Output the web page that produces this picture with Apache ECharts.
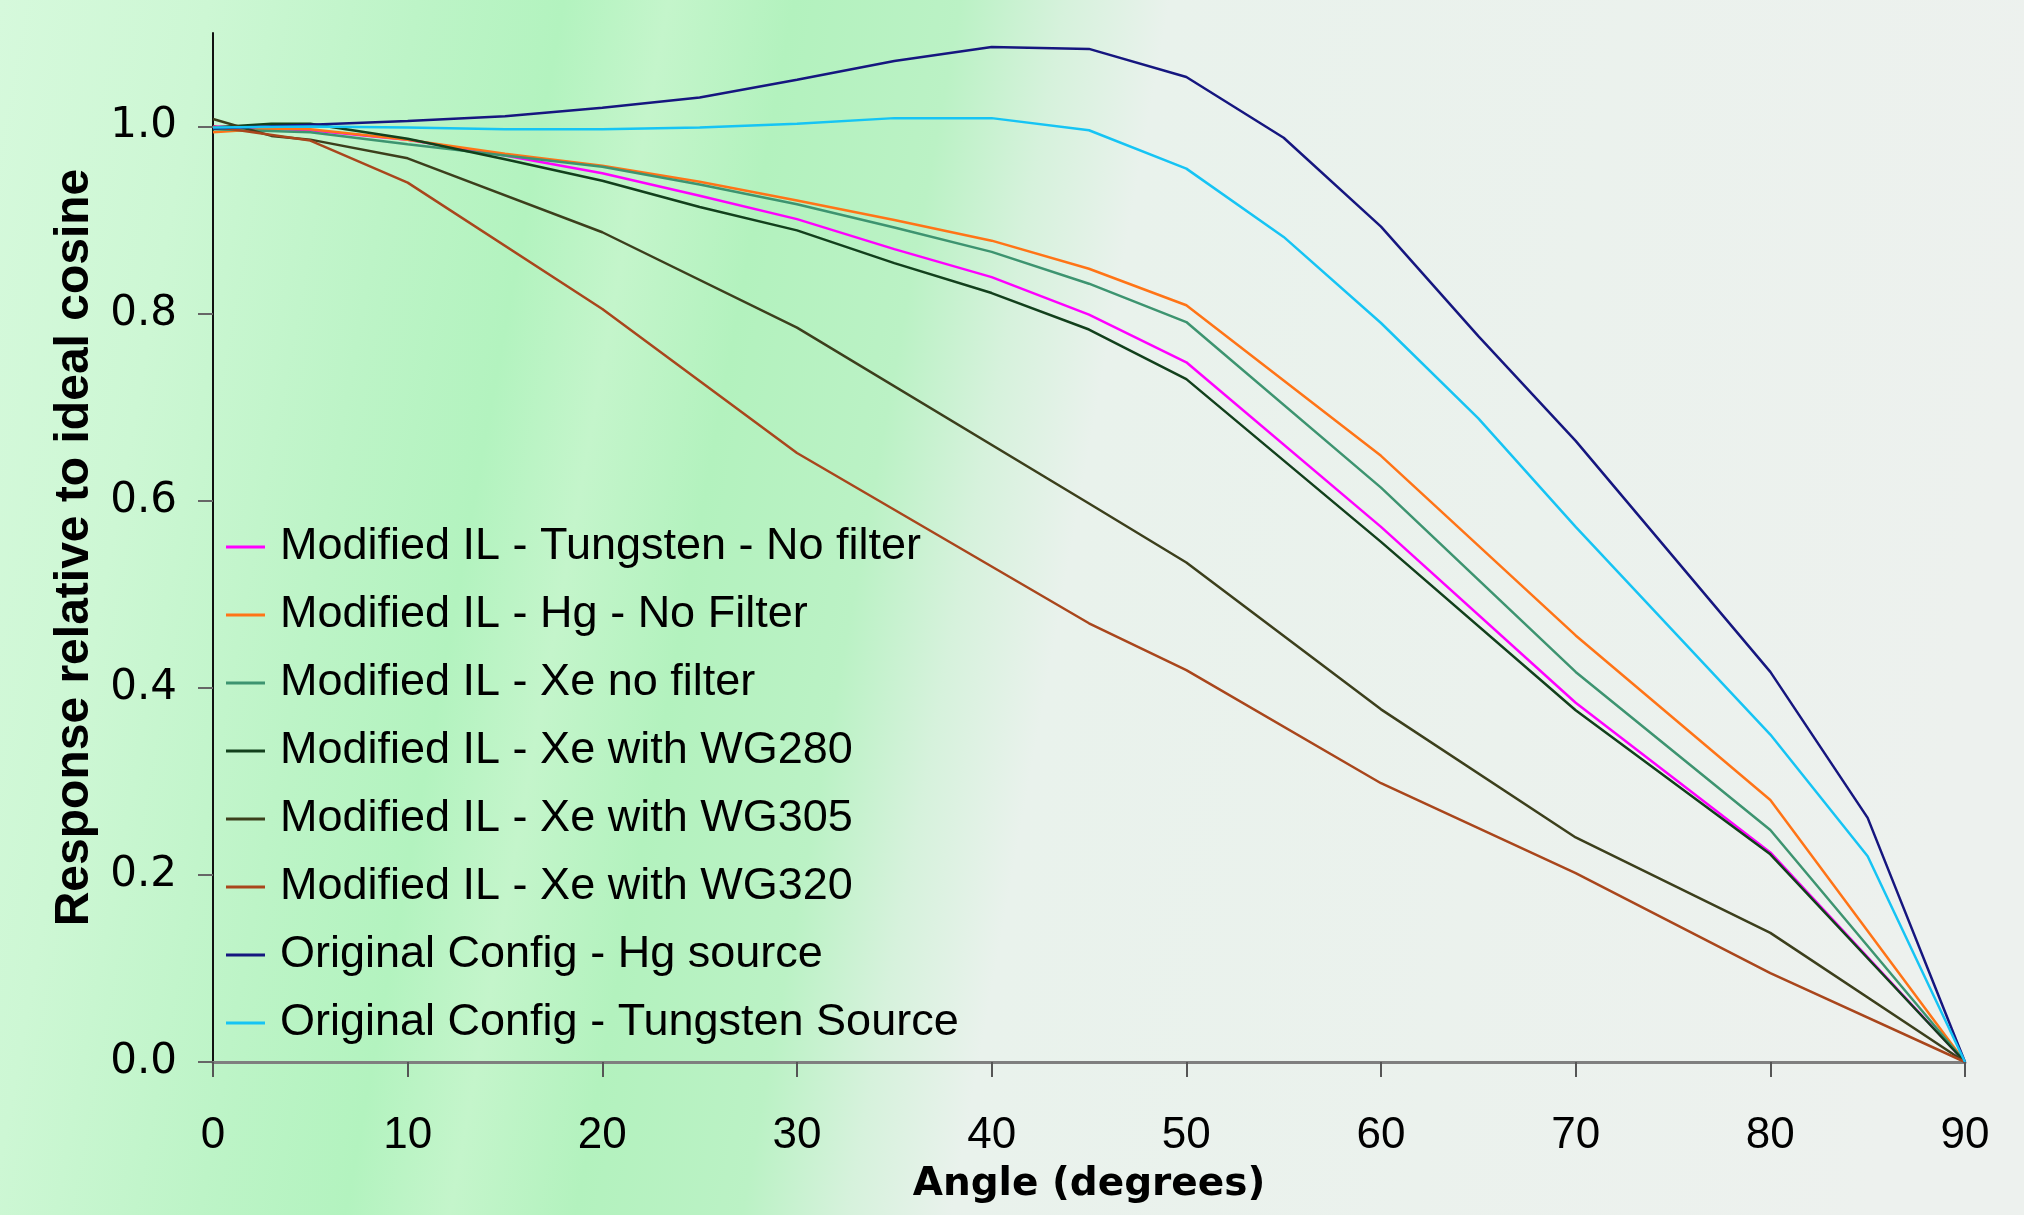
<!DOCTYPE html>
<html>
<head>
<meta charset="utf-8">
<title>Response relative to ideal cosine</title>
<script src="https://cdn.jsdelivr.net/npm/echarts@6/dist/echarts.min.js"></script>
<style>
  html, body { margin: 0; padding: 0; }
  #chart { width: 2024px; height: 1215px; }
</style>
</head>
<body>
<div id="chart"></div>
<script>
// angles (degrees) shared by all series; null = no reading at that angle
const angles = [0, 3, 5, 10, 15, 20, 25, 30, 35, 40, 45, 50, 55, 60, 65, 70, 75, 80, 85, 90];

const ilTungsten = [1.000, null, 0.996, 0.986, 0.969, 0.950, 0.926, 0.901, 0.869, 0.839, 0.799, 0.748, null, 0.572, null, 0.384, null, 0.224, null, 0.000];
const ilHg       = [0.994, 0.998, 0.997, 0.986, 0.971, 0.958, 0.941, 0.921, 0.900, 0.878, 0.848, 0.809, null, 0.648, null, 0.456, null, 0.280, null, 0.000];
const ilXe       = [0.997, null, 0.994, 0.981, 0.969, 0.957, 0.938, 0.917, 0.892, 0.866, 0.832, 0.791, null, 0.614, null, 0.417, null, 0.248, null, 0.000];
const ilWG280    = [0.999, 1.003, 1.003, 0.987, 0.965, 0.942, 0.914, 0.889, 0.854, 0.822, 0.783, 0.730, null, 0.556, null, 0.376, null, 0.222, null, 0.000];
const ilWG305    = [1.008, 0.990, 0.986, 0.966, null, 0.887, null, 0.785, null, null, 0.597, 0.534, null, 0.377, null, 0.240, null, 0.138, null, 0.000];
const ilWG320    = [1.000, null, 0.985, 0.940, null, 0.805, null, 0.651, null, null, 0.469, 0.419, null, 0.298, null, 0.202, null, 0.095, null, 0.000];
const origHg     = [0.998, null, 1.002, 1.006, 1.011, 1.020, 1.031, 1.050, 1.070, 1.085, 1.083, 1.053, 0.988, 0.893, 0.776, 0.664, null, 0.417, 0.261, 0.000];
const origTung   = [0.999, null, 1.000, 0.999, 0.997, 0.997, 0.999, 1.003, 1.009, 1.009, 0.996, 0.955, 0.882, 0.790, 0.688, 0.572, null, 0.350, 0.220, 0.000];

const seriesNames = [
  'Modified IL - Tungsten - No filter',
  'Modified IL - Hg - No Filter',
  'Modified IL - Xe no filter',
  'Modified IL - Xe with WG280',
  'Modified IL - Xe with WG305',
  'Modified IL - Xe with WG320',
  'Original Config - Hg source',
  'Original Config - Tungsten Source',
];
const seriesValues = [ilTungsten, ilHg, ilXe, ilWG280, ilWG305, ilWG320, origHg, origTung];
const colors = ['#ff00ff', '#ff7417', '#3d9470', '#12401c', '#3c3f1c', '#a9461c', '#16167f', '#16c4f4'];

const yTicks = [0, 0.2, 0.4, 0.6, 0.8, 1.0];

const toPairs = (vals) => angles.map((a, i) => [a, vals[i]]).filter((p) => p[1] !== null);

const chart = echarts.init(document.getElementById('chart'), null, { renderer: 'canvas' });

chart.setOption({
  animation: false,
  backgroundColor: {
    type: 'linear', x: 0, y: 0, x2: 1, y2: 0.3,
    colorStops: [
      { offset: 0.00, color: '#d6f9dc' },
      { offset: 0.10, color: '#cdf7d4' },
      { offset: 0.20, color: '#bdf4c7' },
      { offset: 0.27, color: '#b3f3bf' },
      { offset: 0.32, color: '#c4f5cb' },
      { offset: 0.38, color: '#b3f2be' },
      { offset: 0.46, color: '#bbf2c5' },
      { offset: 0.51, color: '#d6f2dc' },
      { offset: 0.56, color: '#e9f2ec' },
      { offset: 1.00, color: '#edf1ee' },
    ],
  },
  grid: { left: 213, right: 59, top: 33, bottom: 153, containLabel: false },
  legend: {
    orient: 'vertical',
    left: 221,
    top: 517,
    itemWidth: 39,
    itemHeight: 3,
    itemGap: 18,
    icon: 'rect',
    data: seriesNames,
    textStyle: {
      color: '#000',
      fontSize: 45,
      lineHeight: 50,
      fontFamily: 'Liberation Sans, Arial, sans-serif',
      padding: [0, 0, 0, 10],
    },
  },
  xAxis: {
    type: 'value',
    min: 0,
    max: 90,
    interval: 10,
    name: 'Angle (degrees)',
    nameLocation: 'middle',
    nameGap: 103,
    nameTextStyle: {
      color: '#000',
      fontSize: 39,
      fontWeight: 'bold',
      fontFamily: 'DejaVu Sans, sans-serif',
    },
    axisLine: { lineStyle: { color: '#7f7f7f', width: 3 } },
    axisTick: { length: 15, lineStyle: { color: '#555', width: 2 } },
    axisLabel: {
      color: '#000',
      fontSize: 44,
      margin: 52,
      fontFamily: 'Liberation Sans, Arial, sans-serif',
    },
    splitLine: { show: false },
  },
  yAxis: {
    type: 'value',
    min: 0,
    max: 1.1,
    interval: 0.2,
    name: 'Response relative to ideal cosine',
    nameLocation: 'middle',
    nameGap: 114,
    nameTextStyle: {
      color: '#000',
      fontSize: 48,
      fontWeight: 'bold',
      fontFamily: 'Liberation Sans, Arial, sans-serif',
    },
    axisLine: { show: true, lineStyle: { color: '#111', width: 2 } },
    axisTick: { show: true, length: 15, customValues: yTicks, lineStyle: { color: '#666', width: 2 } },
    axisLabel: {
      color: '#000',
      fontSize: 42,
      margin: 36,
      customValues: yTicks,
      fontFamily: 'DejaVu Sans, sans-serif',
      formatter: (v) => v.toFixed(1),
    },
    splitLine: { show: false },
  },
  series: seriesNames.map((name, i) => ({
    name,
    type: 'line',
    data: toPairs(seriesValues[i]),
    showSymbol: false,
    symbol: 'none',
    color: colors[i],
    lineStyle: { color: colors[i], width: 2.5 },
  })),
});
</script>
</body>
</html>
